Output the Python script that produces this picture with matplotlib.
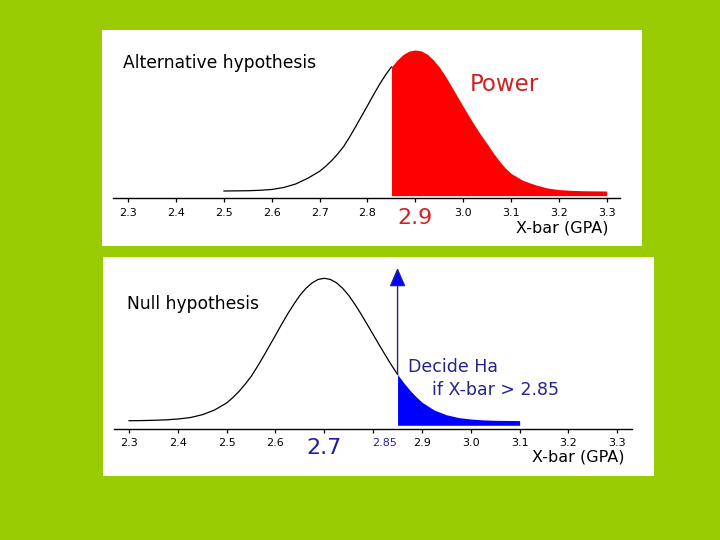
import matplotlib.pyplot as plt

# values (relative curve height, peak = 1)
alt_x = [2.500, 2.525, 2.550, 2.575, 2.600, 2.625, 2.650, 2.675,
         2.7000, 2.7125, 2.7250, 2.7375, 2.7500, 2.7625, 2.7750, 2.7875,
         2.8000, 2.8125, 2.8250, 2.8375, 2.8500, 2.8625, 2.8750, 2.8875,
         2.9000, 2.9125, 2.9250, 2.9375, 2.9500, 2.9625, 2.9750, 2.9875,
         3.0000, 3.0125, 3.0250, 3.0375, 3.0500, 3.0625, 3.0750, 3.0875,
         3.100, 3.125, 3.150, 3.175, 3.200, 3.225, 3.250, 3.275, 3.300]
alt_y = [0.000, 0.001, 0.002, 0.005, 0.011, 0.025, 0.050, 0.090,
         0.140, 0.175, 0.215, 0.262, 0.315, 0.382, 0.455, 0.530,
         0.605, 0.682, 0.755, 0.822, 0.880, 0.930, 0.970, 0.993,
         1.000, 0.993, 0.970, 0.930, 0.880, 0.816, 0.745, 0.672,
         0.600, 0.528, 0.460, 0.395, 0.335, 0.272, 0.215, 0.165,
         0.125, 0.075, 0.045, 0.022, 0.010, 0.005, 0.002, 0.001, 0.000]

null_x = [2.300, 2.325, 2.350, 2.375, 2.400, 2.425, 2.450, 2.475,
          2.5000, 2.5125, 2.5250, 2.5375, 2.5500, 2.5625, 2.5750, 2.5875,
          2.6000, 2.6125, 2.6250, 2.6375, 2.6500, 2.6625, 2.6750, 2.6875,
          2.7000, 2.7125, 2.7250, 2.7375, 2.7500, 2.7625, 2.7750, 2.7875,
          2.8000, 2.8125, 2.8250, 2.8375, 2.8500, 2.8625, 2.8750, 2.8875,
          2.900, 2.925, 2.950, 2.975, 3.000, 3.025, 3.050, 3.075, 3.100]
null_y = [0.000, 0.001, 0.003, 0.006, 0.012, 0.022, 0.042, 0.075,
          0.125, 0.162, 0.205, 0.255, 0.310, 0.378, 0.450, 0.525,
          0.600, 0.677, 0.750, 0.818, 0.880, 0.930, 0.968, 0.992,
          1.000, 0.992, 0.968, 0.930, 0.880, 0.818, 0.750, 0.678,
          0.605, 0.532, 0.460, 0.390, 0.325, 0.267, 0.215, 0.170,
          0.130, 0.075, 0.042, 0.022, 0.012, 0.006, 0.003, 0.002, 0.001]

cutoff = 2.85
tick_vals = [2.3, 2.4, 2.5, 2.6, 2.7, 2.8, 2.9, 3.0, 3.1, 3.2, 3.3]
top_labels = ["2.3", "2.4", "2.5", "2.6", "2.7", "2.8", "2.9", "3.0", "3.1", "3.2", "3.3"]
bot_labels = ["2.3", "2.4", "2.5", "2.6", "2.7", "", "2.9", "3.0", "3.1", "3.2", "3.3"]

GREEN = "#99cc00"
NAVY = "#24248c"
RED_TXT = "#d02222"

fig = plt.figure(figsize=(7.2, 5.4), dpi=100, facecolor=GREEN)


def style_axis(ax, ylo, yhi, axis_y, labels):
    ax.set_facecolor("white")
    ax.set_xlim(2.2461, 3.3744)
    ax.set_ylim(ylo, yhi)
    for side in ["top", "right", "left"]:
        ax.spines[side].set_visible(False)
    ax.spines["bottom"].set_position(("data", axis_y))
    ax.spines["bottom"].set_bounds(2.2686, 3.328)
    ax.spines["bottom"].set_linewidth(1.0)
    ax.set_yticks([])
    ax.set_xticks(tick_vals, labels)
    ax.tick_params(axis="x", direction="out", length=2.9, width=0.9, pad=4.0,
                   labelsize=8, colors="black")


# ---- top: alternative hypothesis ----
ax1 = fig.add_axes([0.14236, 0.54444, 0.74972, 0.4])
style_axis(ax1, -0.390, 1.1418, -0.052, top_labels)

left_x = [x for x in alt_x if x <= cutoff]
left_y = alt_y[:len(left_x)]
ax1.plot(left_x, left_y, color="black", lw=0.9)
right_x = [x for x in alt_x if x >= cutoff]
right_y = alt_y[len(alt_x) - len(right_x):]
ax1.fill_between(right_x, -0.033, right_y, color="#ff0000", lw=0)

lab = ax1.get_xticklabels()[6]
lab.set_fontsize(16)
lab.set_color(RED_TXT)

ax1.text(2.2885, 0.870, "Alternative hypothesis", fontsize=12.3, va="baseline")
ax1.text(3.0143, 0.711, "Power", fontsize=16.5, color=RED_TXT, va="baseline")
ax1.text(3.3033, -0.295, "X-bar (GPA)", fontsize=11.5, ha="right", va="baseline")

# ---- bottom: null hypothesis ----
ax2 = fig.add_axes([0.14264, 0.11852, 0.76611, 0.40463])
style_axis(ax2, -0.388, 1.146, -0.055, bot_labels)
ax2.set_xlim(2.2461, 3.3758)
ax2.spines["bottom"].set_bounds(2.2687, 3.3295)

left_x = [x for x in null_x if x <= cutoff]
left_y = null_y[:len(left_x)]
ax2.plot(left_x, left_y, color="black", lw=0.9)
right_x = [x for x in null_x if x >= cutoff]
right_y = null_y[len(null_x) - len(right_x):]
ax2.fill_between(right_x, -0.032, right_y, color="#0000ff", lw=0)

lab = ax2.get_xticklabels()[4]
lab.set_fontsize(16)
lab.set_color("#1c1ca8")

# small "2.85" label next to the 2.8 tick
ax2.set_xticks([2.823], ["2.85"], minor=True)
ax2.tick_params(axis="x", which="minor", length=0, pad=6.9, labelsize=8, colors=NAVY)

ax2.annotate("", xy=(cutoff, 1.073), xytext=(cutoff, right_y[0]),
             arrowprops=dict(arrowstyle="-|>,head_length=1.15,head_width=0.5",
                             fc="#0000ff", ec=NAVY, lw=1.0, shrinkA=0, shrinkB=0))

ax2.text(2.2955, 0.784, "Null hypothesis", fontsize=12.3, va="baseline")
ax2.text(2.8714, 0.340, "Decide Ha", fontsize=12.5, color=NAVY, va="baseline")
ax2.text(2.9199, 0.180, "if X-bar > 2.85", fontsize=12.5, color=NAVY, va="baseline")
ax2.text(3.3143, -0.288, "X-bar (GPA)", fontsize=11.5, ha="right", va="baseline")

fig.savefig("out.png", dpi=100, facecolor=GREEN)
plt.close(fig)
